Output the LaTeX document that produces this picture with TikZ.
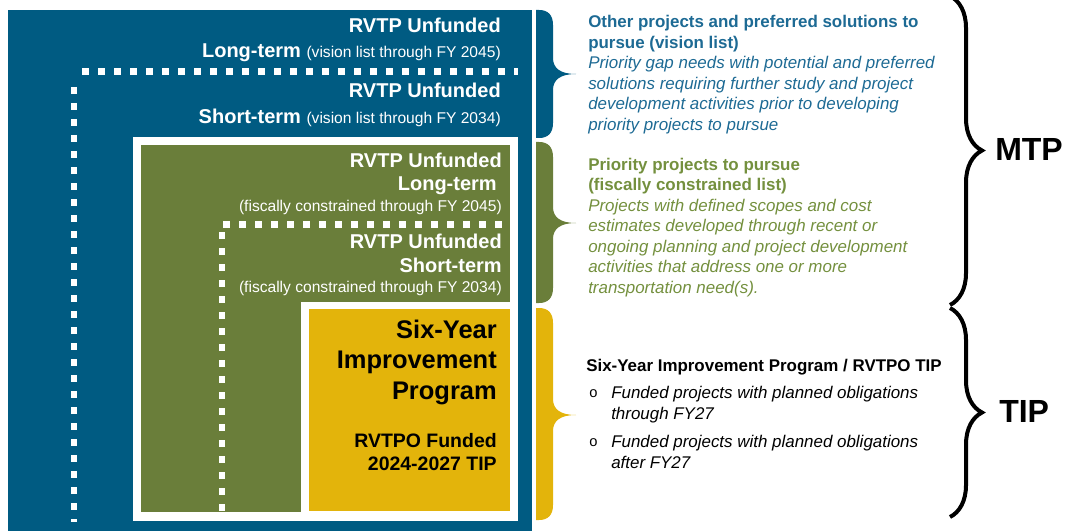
\documentclass[tikz,border=0pt]{standalone}
\usepackage{fontspec}
\setmainfont{Liberation Sans}
\usepackage{tikz}
\usetikzlibrary{decorations.pathreplacing}
\definecolor{rvblue}{HTML}{005B82}
\definecolor{rvbluetext}{HTML}{1D6A94}
\definecolor{rvgreen}{HTML}{6A7E3A}
\definecolor{rvgreentext}{HTML}{74903E}
\definecolor{rvyellow}{HTML}{E3B40B}
\tikzset{boxhead/.style = {anchor = base east, inner sep = 0, text = white,
                           font = \bfseries\fontsize{15}{18}\selectfont}}
\tikzset{boxnote/.style = {anchor = base east, inner sep = 0, text = white,
                           font = \fontsize{11.7}{14}\selectfont}}
\tikzset{sixhead/.style = {anchor = base east, inner sep = 0, font = \bfseries\fontsize{19.1}{23}\selectfont}}
\tikzset{sixnote/.style = {anchor = base east, inner sep = 0, font = \bfseries\fontsize{14.6}{17}\selectfont}}
\tikzset{sidebold/.style = {anchor = base west, inner sep = 0, font = \bfseries\fontsize{12.7}{15}\selectfont}}
\tikzset{sideital/.style = {anchor = base west, inner sep = 0, font = \itshape\fontsize{12.7}{15}\selectfont}}
\tikzset{sidedot/.style = {anchor = base west, inner sep = 0, font = \fontsize{11}{12}\selectfont}}
\tikzset{bigtag/.style = {anchor = base west, inner sep = 0, font = \bfseries\fontsize{24}{28}\selectfont}}
\tikzset{dotline/.style = {white, line width = 4.9pt, dash pattern = on 4.9pt off 7.1pt}}
\tikzset{bigbrace/.style = {decorate, decoration = {brace, amplitude = 24pt}, line width = 3pt}}

\begin{document}
\begin{tikzpicture}[x=0.75pt, y=-0.75pt]
    \useasboundingbox (0, 0) rectangle (1069, 531);

    % nested boxes
    \fill [rvblue] (8, 10) rectangle (532, 531);
    \draw [dotline] (82, 71.5) -- (518, 71.5);
    \draw [dotline] (74, 87) -- (74, 522);
    \fill [white] (133, 137) rectangle (518, 521);
    \fill [rvgreen] (141, 145) rectangle (510, 512);
    \draw [dotline] (223, 224.5) -- (512, 224.5);
    \draw [dotline] (222, 232) -- (222, 512);
    \fill [white] (301, 302) rectangle (518, 521);
    \fill [rvyellow] (309, 309) rectangle (510, 511);

    \node [boxhead] (vlong1) at (501, 33) {RVTP Unfunded};
    \node [boxhead] (vlong2) at (501, 58) {Long-term {\mdseries\fontsize{11.7}{14}\selectfont (vision list through FY 2045)}};
    \node [boxhead] (vshort1) at (501, 98) {RVTP Unfunded};
    \node [boxhead] (vshort2) at (501, 123) {Short-term {\mdseries\fontsize{11.7}{14}\selectfont (vision list through FY 2034)}};

    \node [boxhead] (flong1) at (502, 167) {RVTP Unfunded};
    \node [boxhead] (flong2) at (497, 190) {Long-term};
    \node [boxnote] (flong3) at (502, 211) {(fiscally constrained through FY 2045)};
    \node [boxhead] (fshort1) at (502, 248) {RVTP Unfunded};
    \node [boxhead] (fshort2) at (502, 272) {Short-term};
    \node [boxnote] (fshort3) at (502, 292) {(fiscally constrained through FY 2034)};

    \node [sixhead] (syip1) at (497, 338) {Six-Year};
    \node [sixhead] (syip2) at (497, 368) {Improvement};
    \node [sixhead] (syip3) at (497, 399) {Program};
    \node [sixnote] (funded1) at (497, 447) {RVTPO Funded};
    \node [sixnote] (funded2) at (497, 470) {2024-2027 TIP};

    % coloured braces
    \fill [rvblue] (536, 10) -- (539, 10) .. controls (548, 10) and (553, 15) .. (553, 25)
        -- (553, 58) .. controls (553, 68) and (560, 74) .. (576, 74)
        .. controls (560, 74) and (553, 80) .. (553, 90)
        -- (553, 123) .. controls (553, 133) and (548, 138) .. (539, 138) -- (536, 138) -- cycle;
    \fill [rvgreen] (536, 142) -- (539, 142) .. controls (548, 142) and (553, 147) .. (553, 157)
        -- (553, 207) .. controls (553, 217) and (560, 223) .. (576, 223)
        .. controls (560, 223) and (553, 229) .. (553, 239)
        -- (553, 288) .. controls (553, 298) and (548, 303) .. (539, 303) -- (536, 303) -- cycle;
    \fill [rvyellow] (536, 308) -- (539, 308) .. controls (548, 308) and (553, 313) .. (553, 323)
        -- (553, 399) .. controls (553, 409) and (560, 415) .. (576, 415)
        .. controls (560, 415) and (553, 421) .. (553, 431)
        -- (553, 505) .. controls (553, 515) and (548, 520) .. (539, 520) -- (536, 520) -- cycle;

    \node [sidebold, rvbluetext] (vis1) at (588, 28) {Other projects and preferred solutions to};
    \node [sidebold, rvbluetext] (vis2) at (588, 48.5) {pursue (vision list)};
    \node [sideital, rvbluetext] (vis3) at (588, 69) {Priority gap needs with potential and preferred};
    \node [sideital, rvbluetext] (vis4) at (588, 89.5) {solutions requiring further study and project};
    \node [sideital, rvbluetext] (vis5) at (588, 110) {development activities prior to developing};
    \node [sideital, rvbluetext] (vis6) at (588, 130.5) {priority projects to pursue};

    \node [sidebold, rvgreentext] (pri1) at (588, 170) {Priority projects to pursue};
    \node [sidebold, rvgreentext] (pri2) at (588, 190.5) {(fiscally constrained list)};
    \node [sideital, rvgreentext] (pri3) at (588, 211) {Projects with defined scopes and cost};
    \node [sideital, rvgreentext] (pri4) at (588, 231.5) {estimates developed through recent or};
    \node [sideital, rvgreentext] (pri5) at (588, 252) {ongoing planning and project development};
    \node [sideital, rvgreentext] (pri6) at (588, 272.5) {activities that address one or more};
    \node [sideital, rvgreentext] (pri7) at (588, 293) {transportation need(s).};

    \node [sidebold] (sixyr) at (586, 371) {Six-Year Improvement Program / RVTPO TIP};
    \node [sidedot] (dot1) at (589, 397) {o};
    \node [sideital] (obl1) at (611, 398) {Funded projects with planned obligations};
    \node [sideital] (obl2) at (611, 419) {through FY27};
    \node [sidedot] (dot2) at (589, 446) {o};
    \node [sideital] (obl3) at (611, 447) {Funded projects with planned obligations};
    \node [sideital] (obl4) at (611, 468) {after FY27};

    % black braces
    \coordinate (mtptop) at (950, -4);
    \coordinate (mtpbot) at (950, 305);
    \coordinate (tiptop) at (950, 308);
    \coordinate (tipbot) at (950, 517);
    \draw [bigbrace] (mtptop) -- (mtpbot);
    \draw [bigbrace] (tiptop) -- (tipbot);
    \node [bigtag] (mtp) at (995, 160) {MTP};
    \node [bigtag] (tip) at (999, 422) {TIP};
\end{tikzpicture}
\end{document}
